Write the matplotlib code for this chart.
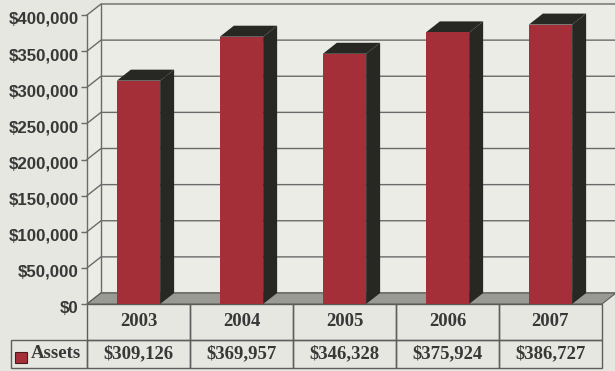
import matplotlib.pyplot as plt
import matplotlib.transforms as mtransforms
from matplotlib.patches import Polygon, Rectangle
from matplotlib.ticker import FuncFormatter, MultipleLocator

years = ["2003", "2004", "2005", "2006", "2007"]
assets = [309126, 369957, 346328, 375924, 386727]
series_name = "Assets"
y_max = 400000
y_step = 50000

W, H = 615, 371
page = "#e7e7e1"
wall = "#ececE6"
grid = "#6a6a6a"
red = "#a52f38"
dark = "#272824"
floor = "#9a9a95"
ink = "#383838"

fig = plt.figure(figsize=(W / 100, H / 100), dpi=100)
fig.patch.set_facecolor(page)

# front plane of the plot area in pixels
left, right, top, bottom = 87, 602, 15, 304
ax = fig.add_axes([left / W, 1 - bottom / H, (right - left) / W, (bottom - top) / H])
n = len(years)
ax.set_xlim(-0.5, n - 0.5)
ax.set_ylim(0, y_max)
ax.patch.set_visible(False)

# depth of the 3-D box, converted to data units
dx = 14 / (right - left) * n
dy = 11 / (bottom - top) * y_max
x0, x1 = -0.5, n - 0.5

# walls
ax.add_patch(Polygon([(x0 + dx, dy), (x1 + dx, dy), (x1 + dx, y_max + dy), (x0 + dx, y_max + dy)],
                     closed=True, facecolor=wall, edgecolor="none", clip_on=False, zorder=0))
ax.add_patch(Polygon([(x0, 0), (x0 + dx, dy), (x0 + dx, y_max + dy), (x0, y_max)],
                     closed=True, facecolor=wall, edgecolor="none", clip_on=False, zorder=0))

# gridlines on the side and back walls
ticks = list(range(0, y_max + 1, y_step))
for v in ticks:
    ax.plot([x0, x0 + dx, x1 + dx], [v, v + dy, v + dy], color=grid, lw=1.0,
            clip_on=False, zorder=1)
ax.plot([x0 + dx, x0 + dx], [dy, y_max + dy], color=grid, lw=1.0, clip_on=False, zorder=1)

# floor
ax.add_patch(Polygon([(x0, 0), (x1, 0), (x1 + dx, dy), (x0 + dx, dy)], closed=True,
                     facecolor=floor, edgecolor="#5a5a58", lw=0.8, clip_on=False, zorder=2))

# bars: front face plus dark side and top
bw = 0.42
xs = list(range(n))
ax.bar(xs, assets, width=bw, color=red, edgecolor="none", zorder=5)
for x, v in zip(xs, assets):
    xl, xr = x - bw / 2, x + bw / 2
    ax.add_patch(Polygon([(xr, 0), (xr + dx, dy), (xr + dx, v + dy), (xr, v)], closed=True,
                         facecolor=dark, edgecolor="none", clip_on=False, zorder=4))
    ax.add_patch(Polygon([(xl, v), (xl + dx, v + dy), (xr + dx, v + dy), (xr, v)], closed=True,
                         facecolor=dark, edgecolor="none", clip_on=False, zorder=4))

# axes styling
for side in ["top", "right", "bottom"]:
    ax.spines[side].set_visible(False)
ax.spines["left"].set_color(grid)
ax.spines["left"].set_linewidth(1.0)
ax.set_xticks([])
ax.yaxis.set_major_locator(MultipleLocator(y_step))
ax.yaxis.set_major_formatter(FuncFormatter(lambda v, p: f"${v:,.0f}"))
ax.tick_params(axis="y", length=4, width=1, color=grid, pad=2)
for lab in ax.get_yticklabels():
    lab.set_fontfamily("Liberation Sans")
    lab.set_fontweight("bold")
    lab.set_fontsize(12.2)
    lab.set_color(ink)
    lab.set_transform(lab.get_transform() + mtransforms.ScaledTranslation(0, -3 / 100, fig.dpi_scale_trans))

# data table under the chart
ph = bottom - top
row1, row2 = 36 / ph, 28 / ph
tbl = ax.table(cellText=[[f"${v:,}" for v in assets]], rowLabels=[series_name],
               colLabels=years, cellLoc="center", rowLoc="left",
               bbox=[0, -(row1 + row2), 1, row1 + row2])
tbl.auto_set_font_size(False)
for (r, c), cell in tbl.get_celld().items():
    cell.set_facecolor("none")
    cell.set_edgecolor("#5e5e5e")
    cell.set_linewidth(1.0)
    cell.set_height(row1 if r == 0 else row2)
    t = cell.get_text()
    t.set_fontfamily("Liberation Serif")
    t.set_fontweight("bold")
    t.set_fontsize(13.5)
    t.set_color(ink)
    if c == -1:
        cell.set_width(77 / (right - left))
        cell.PAD = 0.26

# legend key in the row label cell
ax.add_patch(Rectangle(((15 - left) / (right - left), (bottom - 363) / ph), 12 / (right - left), 11 / ph,
                       transform=ax.transAxes, facecolor=red, edgecolor="#4a1a1e", lw=0.8,
                       clip_on=False, zorder=6))

fig.savefig("out.png", dpi=100, facecolor=page)
